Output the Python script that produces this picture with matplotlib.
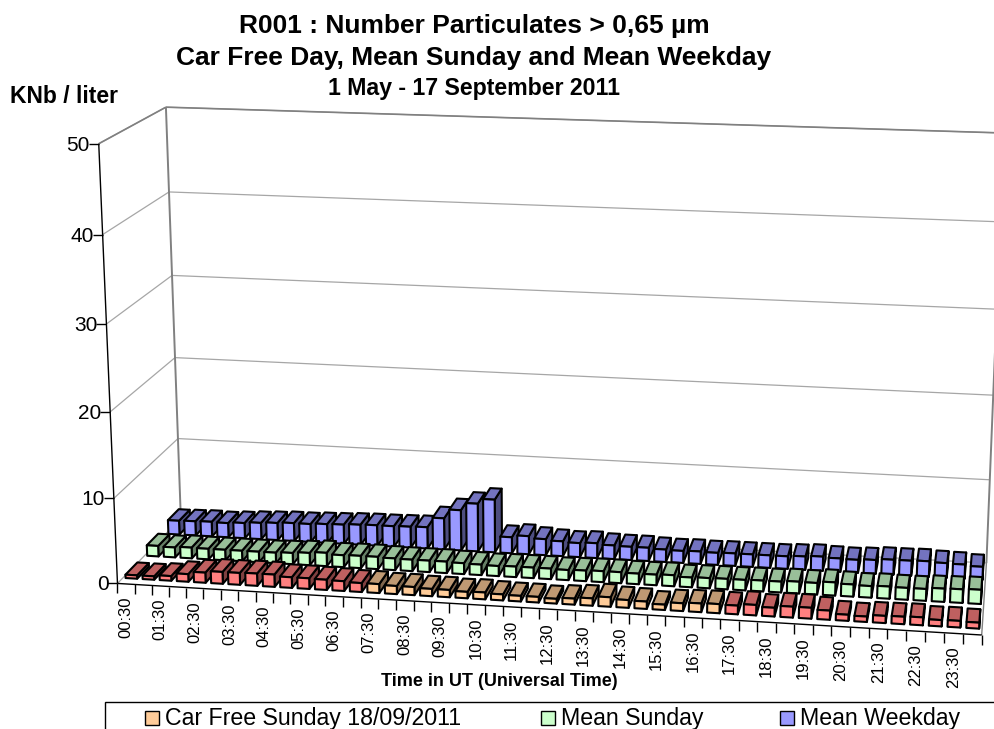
import numpy as np
import matplotlib
matplotlib.use("Agg")
import matplotlib.pyplot as plt
from matplotlib.patches import Polygon, Rectangle

plt.rcParams['font.family'] = ['Liberation Sans', 'DejaVu Sans']

# categories: half hours from 00:30 to 24:00
times = ["%02d:%02d" % ((i + 1) // 2, 30 * ((i + 1) % 2)) for i in range(48)]
y_ticks = [0, 10, 20, 30, 40, 50]

car_free = [0.4, 0.4, 0.55, 0.9, 1.2, 1.4, 1.4, 1.45, 1.45, 1.25, 1.25, 1.2, 1.15, 1.05,
            1.05, 0.95, 0.95, 0.85, 0.85, 0.75, 0.8, 0.7, 0.65, 0.65, 0.55, 0.7, 0.85, 1.1,
            0.9, 0.85, 0.62, 0.9, 1.0, 1.05, 1.0, 1.2, 1.0, 1.25, 1.25, 1.05, 0.7, 0.62,
            0.82, 0.85, 0.9, 0.72, 0.75, 0.68]
mean_sunday = [1.27, 1.2, 1.3, 1.27, 1.27, 1.27, 1.27, 1.27, 1.35, 1.47, 1.6, 1.43, 1.47, 1.47,
               1.4, 1.37, 1.37, 1.37, 1.3, 1.25, 1.2, 1.25, 1.25, 1.25, 1.2, 1.25, 1.3, 1.3,
               1.25, 1.25, 1.3, 1.15, 1.2, 1.23, 1.23, 1.27, 1.27, 1.38, 1.35, 1.54, 1.42,
               1.35, 1.42, 1.38, 1.38, 1.54, 1.58, 1.65]
mean_weekday = [1.7, 1.75, 1.8, 1.75, 1.87, 2.0, 2.1, 2.2, 2.2, 2.3, 2.35, 2.45, 2.5, 2.5,
                2.55, 2.6, 3.8, 4.9, 5.8, 6.4, 1.95, 2.2, 1.95, 1.8, 1.7, 1.8, 1.65, 1.6,
                1.6, 1.5, 1.45, 1.5, 1.45, 1.5, 1.5, 1.5, 1.5, 1.6, 1.7, 1.6, 1.55, 1.65,
                1.8, 1.8, 1.85, 1.75, 1.7, 1.55]
# car free sunday is red outside this range of bars
orange_from, orange_to = 14, 34

ORANGE = np.array([255, 204, 153]) / 255
RED = np.array([255, 128, 128]) / 255
GREEN = np.array([204, 255, 204]) / 255
BLUE = np.array([153, 153, 255]) / 255
GRAY = "#808080"

W, H = 994, 729
n = len(times)
ymax = 50.0

# frame points on the picture, (category, depth, value) -> pixel
corners = [
    ((0, 0, 0), (117, 583)), ((0, 0, 10), (114, 498)), ((0, 0, 20), (110, 412)),
    ((0, 0, 30), (107, 324)), ((0, 0, 40), (103, 235)), ((0, 0, 50), (98, 144)),
    ((0, 1, 0), (181, 519)), ((0, 1, 10), (178, 439)), ((0, 1, 20), (175, 357)),
    ((0, 1, 30), (172, 275)), ((0, 1, 40), (169, 192)), ((0, 1, 50), (166, 107)),
    ((48, 1, 0), (986, 563)), ((48, 1, 10), (990, 480)), ((48, 1, 20), (993, 395)),
    ((48, 1, 30), (997, 309)), ((48, 1, 40), (1000, 222)), ((48, 1, 50), (1004, 133)),
    ((48, 0, 0), (982, 635)),
]


def fit_camera(corners):
    rows, rhs = [], []
    for (c, d, v), (u, w) in corners:
        X = [c / n, d, v / ymax, 1]
        rows.append(X + [0, 0, 0, 0] + [-u * a for a in X[:3]])
        rhs.append(u)
        rows.append([0, 0, 0, 0] + X + [-w * a for a in X[:3]])
        rhs.append(w)
    p = np.linalg.lstsq(np.array(rows, float), np.array(rhs, float), rcond=None)[0]
    return np.append(p, 1).reshape(3, 4)


P = fit_camera(corners)


def project(c, d, v):
    q = P @ np.array([c / n, d, v / ymax, 1])
    return q[0] / q[2], q[1] / q[2]


fig = plt.figure(figsize=(W / 100, H / 100), dpi=100)
ax = fig.add_axes([0, 0, 1, 1])
ax.set_xlim(0, W)
ax.set_ylim(H, 0)
ax.axis('off')


def line(a, b, color=GRAY, lw=1.0, z=1):
    ax.plot([a[0], b[0]], [a[1], b[1]], color=color, lw=lw, zorder=z, solid_capstyle='butt')


# walls
for v in y_ticks:
    line(project(0, 0, v), project(0, 1, v), color="#a6a6a6", lw=0.9)
    line(project(0, 1, v), project(n, 1, v), color="#a6a6a6", lw=0.9)
line(project(0, 0, ymax), project(0, 1, ymax), lw=1.2)
line(project(0, 1, ymax), project(n, 1, ymax), lw=1.2)
line(project(0, 1, 0), project(0, 1, ymax), lw=1.4)
line(project(n, 1, 0), project(n, 1, ymax), lw=1.4)
line(project(n, 0, 0), project(n, 1, 0))


def bar(i, d0, value, color):
    c0, c1 = i + 0.16, i + 0.84
    d1 = d0 + 0.18
    front = [project(c0, d0, 0), project(c1, d0, 0), project(c1, d0, value), project(c0, d0, value)]
    top = [project(c0, d0, value), project(c1, d0, value), project(c1, d1, value), project(c0, d1, value)]
    side = [project(c1, d0, 0), project(c1, d1, 0), project(c1, d1, value), project(c1, d0, value)]
    for pts, shade in ((side, 0.5), (top, 0.75), (front, 1.0)):
        ax.add_patch(Polygon(pts, closed=True, facecolor=color * shade, edgecolor='black',
                             lw=1.5, joinstyle='round', zorder=2))


for i in range(n):
    bar(i, 0.75, mean_weekday[i], BLUE)
for i in range(n):
    bar(i, 0.41, mean_sunday[i], GREEN)
for i in range(n):
    col = ORANGE if orange_from <= i < orange_to else RED
    bar(i, 0.08, car_free[i], col)

# axes
line(project(0, 0, 0), project(0, 0, ymax), color='black', z=3)
line(project(0, 0, 0), project(n, 0, 0), color='black', z=3)
for v in y_ticks:
    x, y = project(0, 0, v)
    line((x - 10, y), (x, y), color='black', z=3)
    ax.text(x - 9, y + 1.5, str(v), ha='right', va='center', fontsize=15)
for i in range(n + 1):
    x, y = project(i, 0, 0)
    line((x, y), (x, y + 10), color='black', z=3)
for i in range(0, n, 2):
    x, y = project(i + 0.5, 0, 0)
    ax.text(x, y + 13, times[i], rotation=90, ha='center', va='top', fontsize=12)

# titles
ax.text(474, 26, "R001 : Number Particulates > 0,65 µm", ha='center', va='center',
        fontsize=19, fontweight='bold')
ax.text(474, 58, "Car Free Day, Mean Sunday and Mean Weekday", ha='center', va='center',
        fontsize=19, fontweight='bold')
ax.text(474, 88, "1 May - 17 September 2011", ha='center', va='center',
        fontsize=16.7, fontweight='bold')
ax.text(10, 96, "KNb / liter", ha='left', va='center', fontsize=16.5, fontweight='bold')
ax.text(499, 682, "Time in UT (Universal Time)", ha='center', va='center',
        fontsize=13, fontweight='bold')

# legend, runs off the bottom and the right of the picture
ax.add_patch(Rectangle((105, 702), 950, 60, facecolor='white', edgecolor='black', lw=1.0, zorder=4))
legend_names = ["Car Free Sunday 18/09/2011", "Mean Sunday", "Mean Weekday"]
legend_cols = [ORANGE, GREEN, BLUE]
legend_x = [145, 541, 780]
for name, col, lx in zip(legend_names, legend_cols, legend_x):
    ax.add_patch(Rectangle((lx, 711), 14, 14, facecolor=col, edgecolor='black', lw=1.0, zorder=5))
    ax.text(lx + 20, 719, name, ha='left', va='center', fontsize=16.7, zorder=5)

fig.savefig("out.png", dpi=100)
